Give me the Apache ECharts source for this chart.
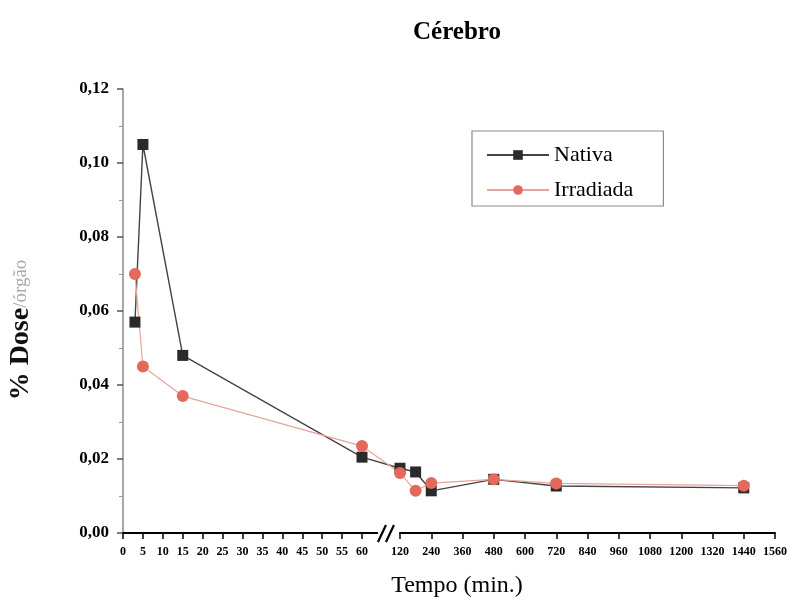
<!DOCTYPE html>
<html>
<head>
<meta charset="utf-8">
<script src="https://cdn.jsdelivr.net/npm/echarts@6/dist/echarts.min.js"></script>
<style>
  html, body { margin: 0; padding: 0; background: #fff; }
  #chart { width: 790px; height: 601px; }
</style>
</head>
<body>
<div id="chart"></div>
<script>
// Sampling times (minutes) and % dose per organ for brain tissue
const tempos = [3, 5, 15, 60, 120, 180, 240, 480, 720, 1440];
const nativa = [0.057, 0.105, 0.048, 0.0205, 0.0175, 0.0165, 0.0114, 0.0145, 0.0127, 0.0122];
const irradiada = [0.070, 0.045, 0.037, 0.0235, 0.0162, 0.0114, 0.0135, 0.0145, 0.0134, 0.0128];

// Axis segments on either side of the break
const leftTicks = { min: 0, max: 60, interval: 5 };
const rightTicks = { min: 120, max: 1560, interval: 120 };

const serif = '"Liberation Serif", "DejaVu Serif", serif';

function pairs(values, lo, hi) {
  const out = [];
  tempos.forEach((t, i) => { if (t >= lo && t <= hi) out.push([t, values[i]]); });
  return out;
}

const gTop = 89, gHeight = 444;
const fmtY = v => v.toFixed(2).replace('.', ',');

const nativaStyle = {
  symbol: 'rect', symbolSize: 11,
  itemStyle: { color: '#2a2a2a' },
  lineStyle: { color: '#444', width: 1.4 }
};
const irradStyle = {
  symbol: 'circle', symbolSize: 12,
  itemStyle: { color: '#e2695c' },
  lineStyle: { color: '#e9a39b', width: 1.2 }
};

function seriesFor(name, values, style) {
  return [
    Object.assign({ name, type: 'line', xAxisIndex: 0, yAxisIndex: 0, data: pairs(values, 0, 60) }, style),
    Object.assign({ name, type: 'line', xAxisIndex: 1, yAxisIndex: 1, data: pairs(values, 60, 120),
      showSymbol: false, silent: true }, style),
    Object.assign({ name, type: 'line', xAxisIndex: 2, yAxisIndex: 2, data: pairs(values, 120, 1560) }, style)
  ];
}

const xCommon = {
  type: 'value',
  axisLine: { show: true, lineStyle: { color: '#000', width: 2 } },
  axisTick: { show: true, inside: false, length: 6, lineStyle: { color: '#000', width: 1.5 } },
  axisLabel: { color: '#000', fontFamily: serif, fontWeight: 'bold', fontSize: 12, margin: 13,
    formatter: v => String(v) },
  splitLine: { show: false }
};
const yHidden = { type: 'value', min: 0, max: 0.12, interval: 0.02, show: false };

const chart = echarts.init(document.getElementById('chart'));
chart.setOption({
  backgroundColor: '#fff',
  animation: false,
  title: [
    { text: 'Cérebro', left: 452, top: 15, textAlign: 'center',
      textStyle: { fontFamily: serif, fontWeight: 'bold', fontSize: 25, color: '#000' } },
    { text: 'Tempo (min.)', left: 452, top: 569, textAlign: 'center',
      textStyle: { fontFamily: serif, fontWeight: 'normal', fontSize: 24, color: '#000' } }
  ],
  legend: {
    orient: 'vertical', left: 472, top: 131,
    data: ['Nativa', 'Irradiada'],
    itemWidth: 62, itemHeight: 12, itemGap: 13,
    padding: [13, 30, 5, 14],
    borderColor: '#8c8c8c', borderWidth: 1.2,
    textStyle: { fontFamily: serif, fontSize: 22, color: '#000' }
  },
  grid: [
    { left: 123, width: 239, top: gTop, height: gHeight },
    { left: 362, width: 38, top: gTop, height: gHeight },
    { left: 400, width: 375, top: gTop, height: gHeight }
  ],
  xAxis: [
    Object.assign({ gridIndex: 0 }, xCommon, leftTicks),
    { type: 'value', gridIndex: 1, min: 60, max: 120, show: false },
    Object.assign({ gridIndex: 2 }, xCommon, rightTicks)
  ],
  yAxis: [
    {
      type: 'value', gridIndex: 0, min: 0, max: 0.12, interval: 0.02,
      axisLine: { show: true, lineStyle: { color: '#8a8a8a', width: 1.5 } },
      axisTick: { show: true, inside: false, length: 6, lineStyle: { color: '#555', width: 1.5 } },
      minorTick: { show: true, splitNumber: 2, length: 4, lineStyle: { color: '#999' } },
      axisLabel: { formatter: fmtY, color: '#000', fontFamily: serif, fontWeight: 'bold', fontSize: 17, margin: 14 },
      splitLine: { show: false },
      name: '{a|% Dose}{b|/órgão}',
      nameLocation: 'middle', nameRotate: 90, nameGap: 88,
      nameTextStyle: {
        rich: {
          a: { fontFamily: serif, fontSize: 28, fontWeight: 'bold', color: '#111' },
          b: { fontFamily: serif, fontSize: 19, color: '#aaa' }
        },
        padding: [0, 0, 0, -38]
      }
    },
    Object.assign({ gridIndex: 1 }, yHidden),
    Object.assign({ gridIndex: 2 }, yHidden)
  ],
  series: [
    ...seriesFor('Nativa', nativa, nativaStyle),
    ...seriesFor('Irradiada', irradiada, irradStyle)
  ]
});

// Axis-break marks between the two time segments
const p60 = chart.convertToPixel({ xAxisIndex: 1 }, 60);
const p120 = chart.convertToPixel({ xAxisIndex: 1 }, 120);
const baseY = chart.convertToPixel({ yAxisIndex: 1 }, 0);
const gap = p120 - p60;
const cut = p60 + gap * 0.42;
chart.setOption({
  graphic: [
    { type: 'line', shape: { x1: p60, y1: baseY, x2: cut, y2: baseY },
      style: { stroke: '#000', lineWidth: 2 } },
    { type: 'line', shape: { x1: cut, y1: baseY + 9, x2: cut + 8, y2: baseY - 8 },
      style: { stroke: '#000', lineWidth: 2.2 } },
    { type: 'line', shape: { x1: cut + 8, y1: baseY + 9, x2: cut + 16, y2: baseY - 8 },
      style: { stroke: '#000', lineWidth: 2.2 } }
  ]
});
</script>
</body>
</html>
